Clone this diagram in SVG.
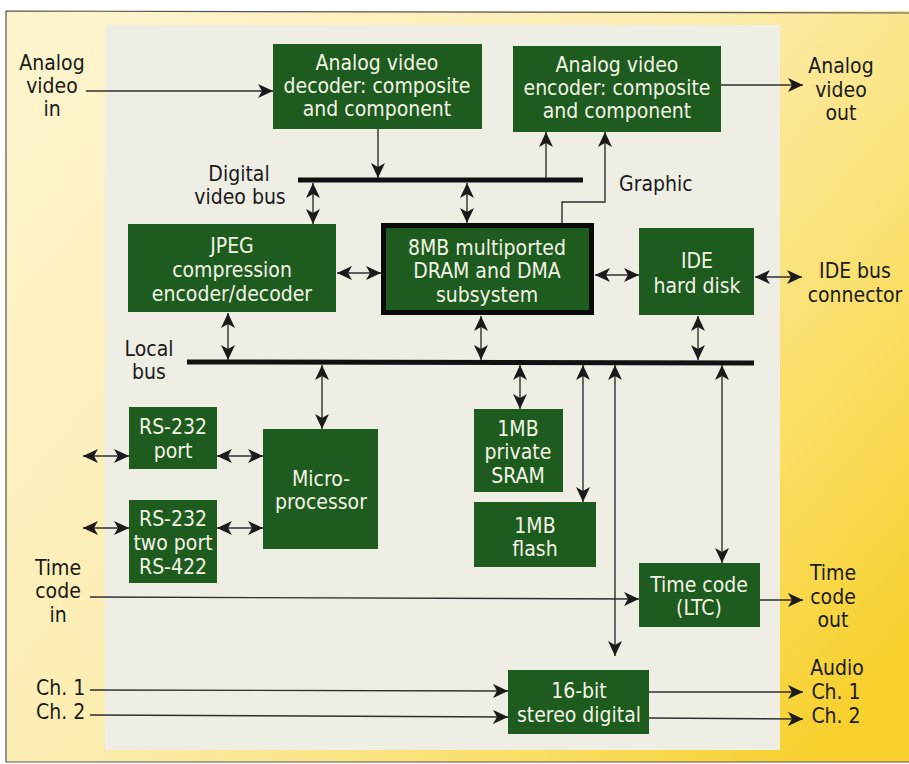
<svg xmlns="http://www.w3.org/2000/svg" width="909" height="764" viewBox="0 0 909 764">
<defs>
<linearGradient id="bg" x1="0" y1="0.15" x2="1" y2="0.85">
<stop offset="0" stop-color="#fdf4cc"/>
<stop offset="0.45" stop-color="#fcedb0"/>
<stop offset="0.8" stop-color="#fadd60"/>
<stop offset="1" stop-color="#f7d02c"/>
</linearGradient>
<marker id="ah" viewBox="0 0 15 14" refX="15" refY="7" markerWidth="15" markerHeight="14" markerUnits="userSpaceOnUse" orient="auto-start-reverse">
<path d="M0,0 L15,7 L0,14 L4,7 Z" fill="#1a1a1a"/>
</marker>
</defs>
<style>
.box{fill:#1e5b1e}
.bt{font-family:"DejaVu Sans Condensed","Liberation Sans",Arial,sans-serif;font-stretch:condensed;font-size:21px;fill:#f3f3e6;text-anchor:middle}
.lt{font-family:"DejaVu Sans Condensed","Liberation Sans",Arial,sans-serif;font-stretch:condensed;font-size:21px;fill:#1a1a1a;text-anchor:middle}
.c{stroke:#2e2e2e;stroke-width:1.4;fill:none}
.one{marker-end:url(#ah)}
.two{marker-start:url(#ah);marker-end:url(#ah)}
.bus{stroke:#111;stroke-width:5}
</style>
<rect x="0" y="0" width="909" height="764" fill="#ffffff"/>
<rect x="6" y="11" width="903" height="751" fill="url(#bg)"/>
<path d="M6,762 L6,11 L909,13" fill="none" stroke="#555" stroke-width="1.2"/>
<line x1="6" y1="762" x2="909" y2="762" stroke="#555" stroke-width="1.2"/>
<rect x="105" y="25" width="675" height="725" fill="#eeeee5"/>

<g id="labels">
<text class="lt"><tspan x="52" y="70">Analog</tspan><tspan x="52" y="93">video</tspan><tspan x="52" y="116">in</tspan></text>
<text class="lt"><tspan x="841" y="73">Analog</tspan><tspan x="841" y="97">video</tspan><tspan x="841" y="120">out</tspan></text>
<text class="lt"><tspan x="239" y="181">Digital</tspan><tspan x="240" y="204">video bus</tspan></text>
<text class="lt" x="619" y="191" style="text-anchor:start">Graphic</text>
<text class="lt"><tspan x="855" y="278">IDE bus</tspan><tspan x="855" y="302">connector</tspan></text>
<text class="lt"><tspan x="149" y="356">Local</tspan><tspan x="149" y="379">bus</tspan></text>
<text class="lt"><tspan x="58" y="575">Time</tspan><tspan x="58" y="598">code</tspan><tspan x="58" y="622">in</tspan></text>
<text class="lt"><tspan x="833" y="580">Time</tspan><tspan x="833" y="604">code</tspan><tspan x="833" y="627">out</tspan></text>
<text class="lt" style="text-anchor:start"><tspan x="36" y="695">Ch. 1</tspan><tspan x="36" y="719">Ch. 2</tspan></text>
<text class="lt"><tspan x="837" y="675">Audio</tspan><tspan x="836" y="699">Ch. 1</tspan><tspan x="836" y="723">Ch. 2</tspan></text>
</g>

<g id="connectors">
<line class="bus" x1="298" y1="180" x2="583" y2="180"/>
<line class="bus" x1="187" y1="362" x2="754" y2="363"/>
<line class="c one" x1="86" y1="91" x2="273" y2="91"/>
<line class="c one" x1="378" y1="129" x2="378" y2="178"/>
<line class="c two" x1="313" y1="183" x2="313" y2="224"/>
<line class="c two" x1="467" y1="183" x2="467" y2="223"/>
<line class="c one" x1="546" y1="178" x2="546" y2="132"/>
<polyline class="c one" points="562,223 562,202 605,202 605,132"/>
<line class="c one" x1="721" y1="85" x2="803" y2="85"/>
<line class="c two" x1="337" y1="273" x2="381" y2="273"/>
<line class="c two" x1="595" y1="275" x2="639" y2="275"/>
<line class="c two" x1="755" y1="277" x2="802" y2="277"/>
<line class="c two" x1="228" y1="313" x2="228" y2="360"/>
<line class="c two" x1="481" y1="316" x2="481" y2="360"/>
<line class="c two" x1="698" y1="316" x2="698" y2="360"/>
<line class="c two" x1="322" y1="365" x2="322" y2="429"/>
<line class="c two" x1="520" y1="365" x2="520" y2="409"/>
<line class="c two" x1="583" y1="365" x2="583" y2="502"/>
<line class="c two" x1="615" y1="365" x2="615" y2="656"/>
<line class="c two" x1="722" y1="365" x2="722" y2="563"/>
<line class="c two" x1="217" y1="456" x2="263" y2="456"/>
<line class="c two" x1="83" y1="456" x2="129" y2="456"/>
<line class="c two" x1="217" y1="528" x2="263" y2="528"/>
<line class="c two" x1="83" y1="528" x2="129" y2="528"/>
<line class="c one" x1="90" y1="597" x2="639" y2="599"/>
<line class="c one" x1="760" y1="600" x2="803" y2="600"/>
<line class="c one" x1="90" y1="690" x2="508" y2="691"/>
<line class="c one" x1="90" y1="715" x2="508" y2="717"/>
<line class="c one" x1="649" y1="692" x2="803" y2="692"/>
<line class="c one" x1="649" y1="718" x2="803" y2="719"/>
</g>

<g id="decoder">
<rect class="box" x="273" y="44" width="209" height="85"/>
<text class="bt"><tspan x="377" y="70">Analog video</tspan><tspan x="377" y="93">decoder: composite</tspan><tspan x="377" y="116">and component</tspan></text>
</g>
<g id="encoder">
<rect class="box" x="513" y="46" width="208" height="86"/>
<text class="bt"><tspan x="617" y="72">Analog video</tspan><tspan x="617" y="95">encoder: composite</tspan><tspan x="617" y="118">and component</tspan></text>
</g>
<g id="jpeg">
<rect class="box" x="128" y="224" width="208" height="88"/>
<text class="bt"><tspan x="232" y="253">JPEG</tspan><tspan x="232" y="277">compression</tspan><tspan x="232" y="301">encoder/decoder</tspan></text>
</g>
<g id="dram">
<rect class="box" x="383.5" y="225.5" width="208" height="87" stroke="#0a0a0a" stroke-width="5"/>
<text class="bt"><tspan x="487" y="255">8MB multiported</tspan><tspan x="487" y="278">DRAM and DMA</tspan><tspan x="487" y="302">subsystem</tspan></text>
</g>
<g id="ide">
<rect class="box" x="639" y="228" width="115" height="87"/>
<text class="bt"><tspan x="697" y="268">IDE</tspan><tspan x="697" y="293">hard disk</tspan></text>
</g>
<g id="rs232">
<rect class="box" x="129" y="407" width="88" height="62"/>
<text class="bt"><tspan x="173" y="434">RS-232</tspan><tspan x="173" y="458">port</tspan></text>
</g>
<g id="rs422">
<rect class="box" x="129" y="500" width="88" height="83"/>
<text class="bt"><tspan x="173" y="526">RS-232</tspan><tspan x="173" y="550">two port</tspan><tspan x="173" y="574">RS-422</tspan></text>
</g>
<g id="micro">
<rect class="box" x="263" y="429" width="115" height="120"/>
<text class="bt"><tspan x="321" y="486">Micro-</tspan><tspan x="321" y="509">processor</tspan></text>
</g>
<g id="sram">
<rect class="box" x="474" y="409" width="89" height="83"/>
<text class="bt"><tspan x="518" y="436">1MB</tspan><tspan x="518" y="459">private</tspan><tspan x="518" y="483">SRAM</tspan></text>
</g>
<g id="flash">
<rect class="box" x="474" y="502" width="122" height="65"/>
<text class="bt"><tspan x="535" y="533">1MB</tspan><tspan x="535" y="556">flash</tspan></text>
</g>
<g id="ltc">
<rect class="box" x="639" y="563" width="121" height="64"/>
<text class="bt"><tspan x="699" y="592">Time code</tspan><tspan x="699" y="615">(LTC)</tspan></text>
</g>
<g id="audio">
<rect class="box" x="508" y="670" width="141" height="64"/>
<text class="bt"><tspan x="579" y="698">16-bit</tspan><tspan x="579" y="722">stereo digital</tspan></text>
</g>
</svg>
